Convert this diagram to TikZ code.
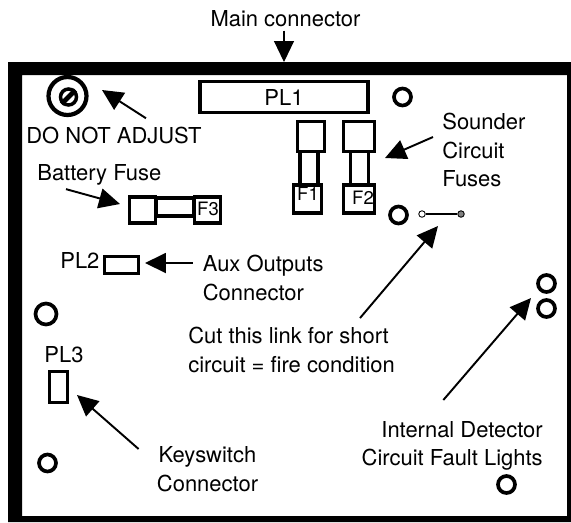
\documentclass[tikz,border=0pt]{standalone}
\usepackage{fontspec}
\setmainfont{TeX Gyre Heros}
\usetikzlibrary{arrows.meta}

\begin{document}
\begin{tikzpicture}[x=0.02cm,y=-0.02cm]
  \tikzset{
part/.style={draw, line width=2pt, inner sep=0pt, fill=white},
hole/.style={draw, circle, line width=2.1pt, inner sep=0pt, minimum size=0.34cm},
lbl/.style={inner sep=0pt, font=\fontsize{12.5}{16.2}\selectfont},
fuselbl/.style={inner sep=0pt, font=\fontsize{10.5}{13}\selectfont},
callout/.style={-{Triangle[length=0.42cm,width=0.4cm]}, line width=1.1pt},
}
  \useasboundingbox (0,0) rectangle (571,522);

  % Case outline
  \fill [even odd rule] (8,62) rectangle (571,522) (22,75) rectangle (567,516);

  % Parts
  \node [part, minimum width=3.36cm, minimum height=0.62cm, lbl] (pl1) at (284,97) {PL1};
  \node [part, minimum width=0.68cm, minimum height=0.34cm] (pl2) at (121.5,265) {};
  \node [part, minimum width=0.36cm, minimum height=0.62cm] (pl3) at (58.5,387) {};

  % Fuses
  \node [part, minimum width=0.36cm, minimum height=0.66cm] (link1) at (309,168) {};
  \node [part, minimum width=0.54cm, minimum height=0.6cm] (cap1) at (311,136.5) {};
  \node [part, minimum width=0.56cm, minimum height=0.56cm] (end1) at (307.5,199) {};
  \node [part, minimum width=0.36cm, minimum height=0.66cm] (link2) at (359.5,168) {};
  \node [part, minimum width=0.62cm, minimum height=0.6cm] (cap2) at (359,136.5) {};
  \node [part, minimum width=0.62cm, minimum height=0.56cm] (end2) at (359,199) {};
  \node [part, minimum width=0.76cm, minimum height=0.36cm] (link3) at (175,207) {};
  \node [part, minimum width=0.52cm, minimum height=0.52cm] (cap3) at (142.5,210) {};
  \node [part, minimum width=0.52cm, minimum height=0.52cm] (end3) at (207.5,210) {};
  \node [fuselbl, anchor=base] (f1) at (308,200) {F1};
  \node [fuselbl, anchor=base] (f2) at (363,204) {F2};
  \node [fuselbl, anchor=base] (f3) at (208,215) {F3};

  % Pot
  \node [hole, line width=2.4pt, minimum size=0.76cm] (pot) at (67.5,96) {};
  \node [hole, line width=2pt, minimum size=0.32cm] (slot) at (68.5,97) {};
  \draw [line width=2.8pt] (slot.south west) -- (slot.north east);

  % Holes and lights
  \node [hole] (holea) at (402.5,97) {};
  \node [hole] (holeb) at (398.5,215) {};
  \node [hole, minimum size=0.42cm] (holec) at (46,314) {};
  \node [hole] (holed) at (47.5,463) {};
  \node [hole] (holee) at (506.5,484.5) {};
  \node [hole] (lighta) at (546.5,283.5) {};
  \node [hole] (lightb) at (546.5,308.5) {};

  % Wire link
  \node [draw, circle, line width=0.5pt, inner sep=0pt, minimum size=0.13cm] (linka) at (422,214) {};
  \node [draw, circle, line width=0.5pt, fill=gray, inner sep=0pt, minimum size=0.13cm] (linkb) at (461,214) {};
  \draw [line width=1.2pt] (linka) -- (linkb);

  % Labels
  \node [lbl, anchor=base] (main) at (285.5,26) {Main connector};
  \node [lbl, anchor=base west] (adjust) at (26,143) {DO NOT ADJUST};
  \node [lbl, anchor=base west] (battery) at (37,180) {Battery Fuse};
  \node [lbl, anchor=west, align=left] (sounder) at (442,150) {Sounder\\Circuit\\Fuses};
  \node [lbl, anchor=base west] (pl2lbl) at (60,268) {PL2};
  \node [lbl, anchor=west, align=left] (aux) at (202.5,278) {Aux Outputs\\Connector};
  \node [lbl, anchor=base] (pl3lbl) at (64,362) {PL3};
  \node [lbl, anchor=west, align=left] (cut) at (188,350) {Cut this link for short\\circuit = fire condition};
  \node [lbl, align=center] (keysw) at (207.5,469) {Keyswitch\\Connector};
  \node [lbl, anchor=east, align=right] (internal) at (543,446) {Internal Detector\\Circuit Fault Lights};

  % Arrow tips
  \coordinate (tipmain) at (284,62);
  \coordinate (tipadjust) at (102,90);
  \coordinate (tipbattery) at (120,204);
  \coordinate (tipsounder) at (385,158);
  \coordinate (tipaux) at (145,263);
  \coordinate (tipcut) at (438,226);
  \coordinate (tipkeysw) at (77,395);
  \coordinate (tipinternal) at (531,298);

  % Callouts
  \draw [callout, line width=0.6pt] ([shift={(-1.5,4)}]main.south) -- (tipmain);
  \draw [callout] ([shift={(32,-8)}]adjust.north) -- (tipadjust);
  \draw [callout] ([shift={(29,4)}]battery.south west) -- (tipbattery);
  \draw [callout] ([shift={(-9,-13)}]sounder.west) -- (tipsounder);
  \draw [callout] ([shift={(-10,-15)}]aux.west) -- (tipaux);
  \draw [callout] ([shift={(172,-9)}]cut.north west) -- (tipcut);
  \draw [callout] ([shift={(-18,-20)}]keysw.west) -- (tipkeysw);
  \draw [callout] ([shift={(82,-21)}]internal.north west) -- (tipinternal);
\end{tikzpicture}
\end{document}
